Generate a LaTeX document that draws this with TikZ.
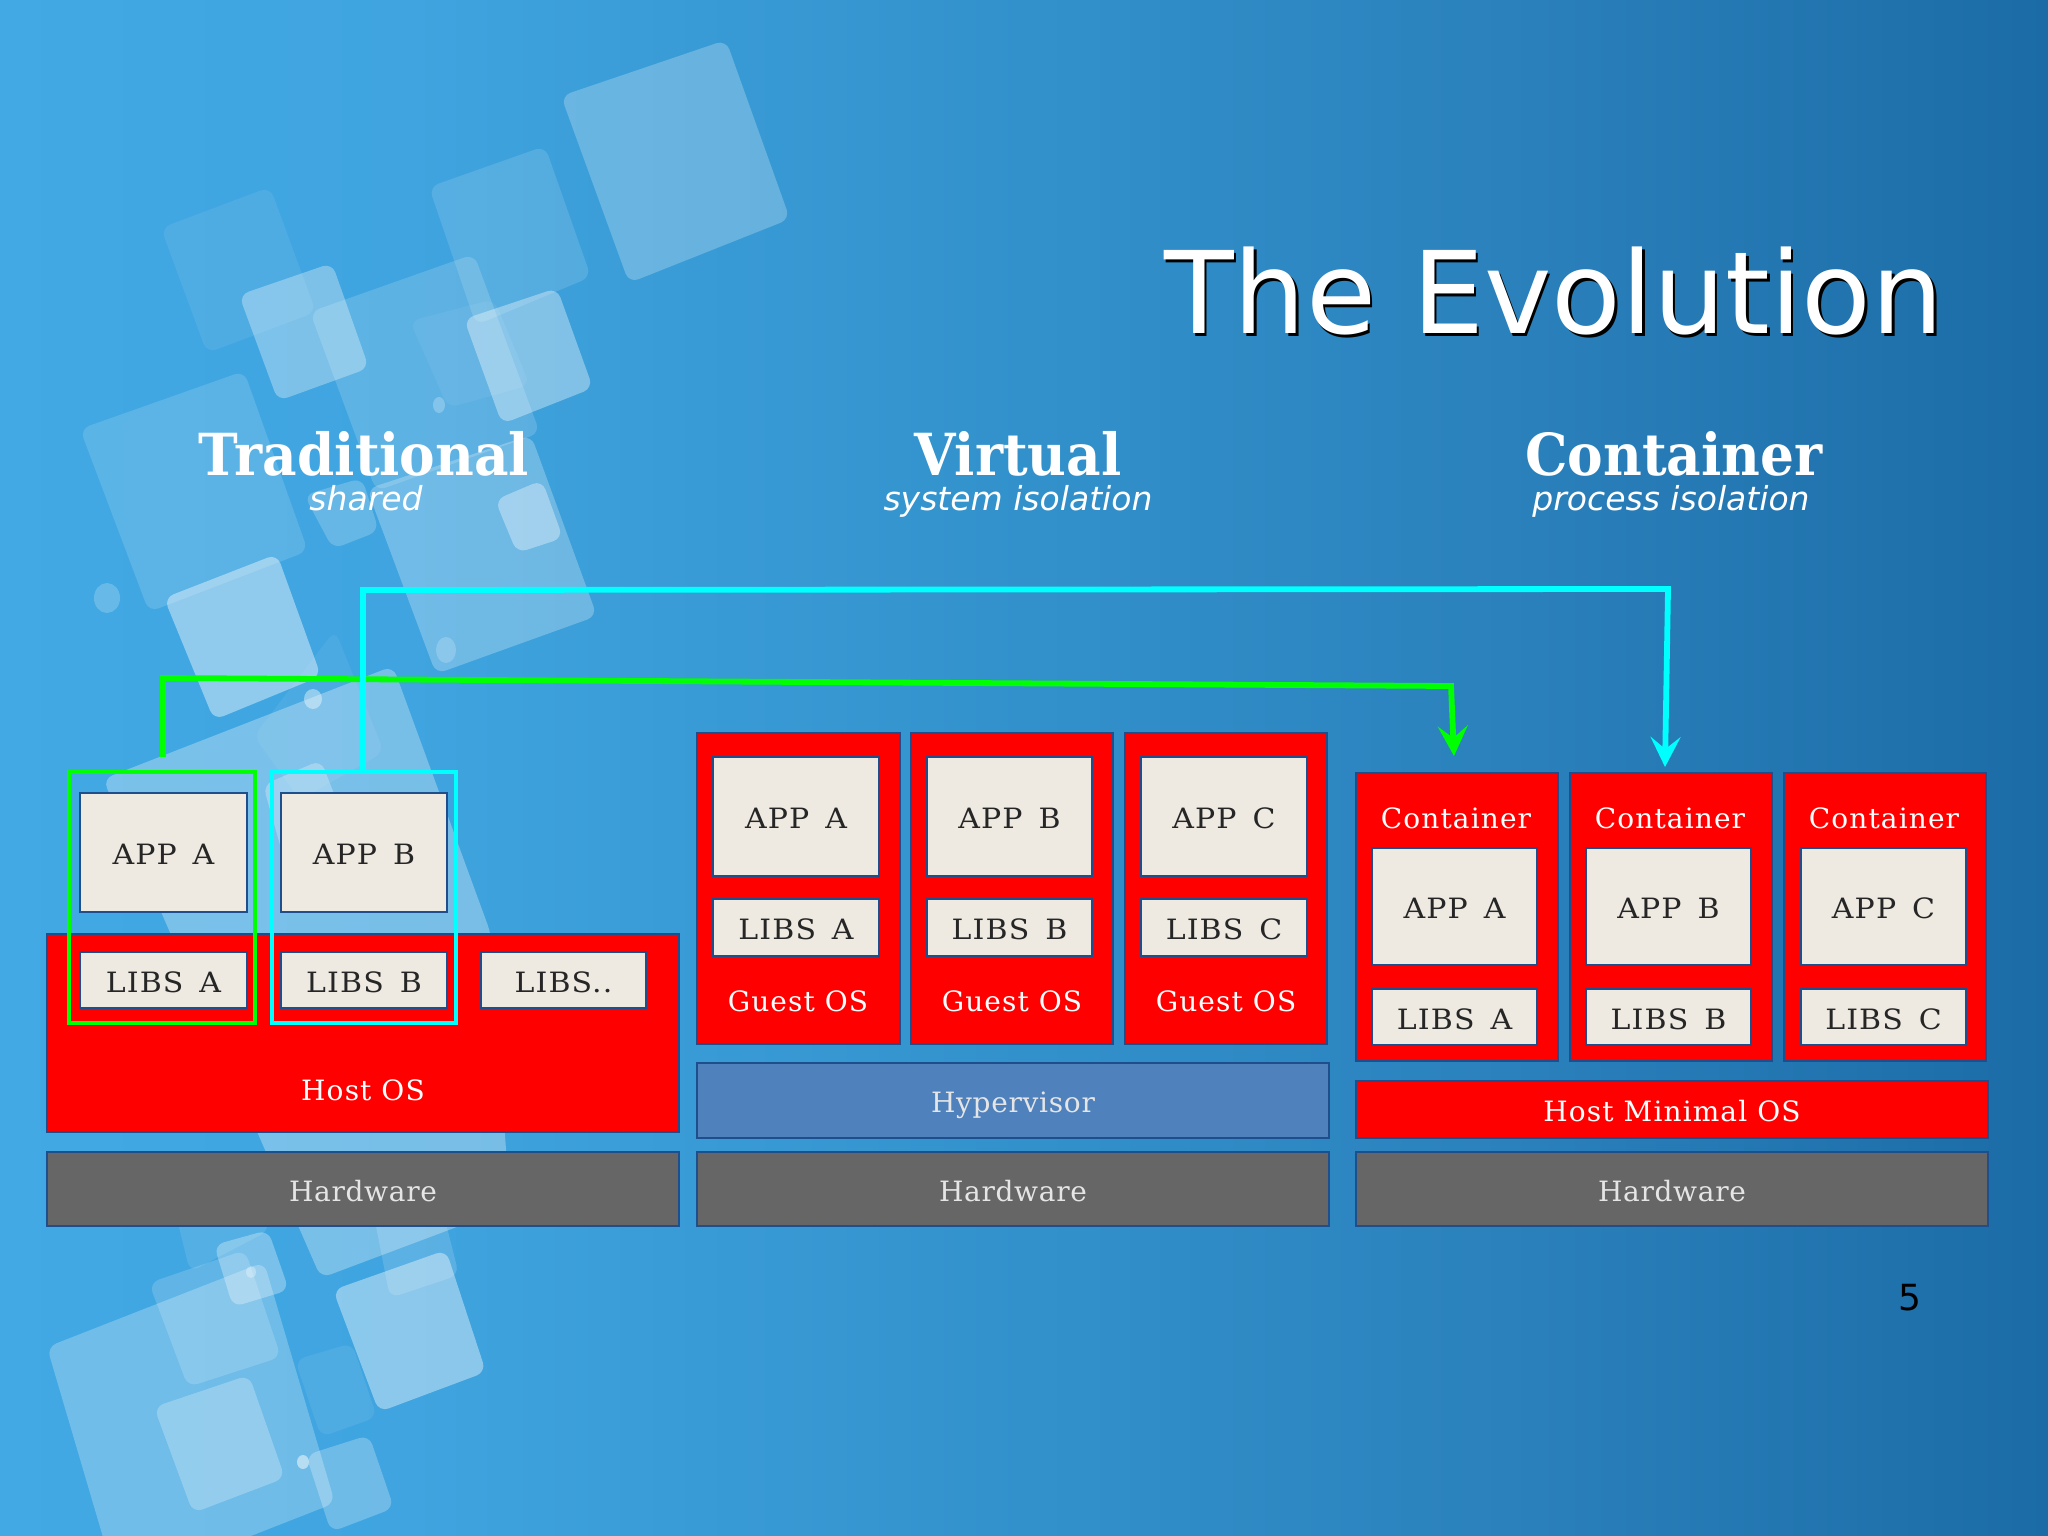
\documentclass[tikz,border=0pt]{standalone}
\usepackage{fontspec}
\usetikzlibrary{arrows.meta}
\setmainfont{DejaVu Sans}
\newfontfamily\boxfont[LetterSpace=4]{DejaVu Serif}
\newfontfamily\greyfont[LetterSpace=2.5]{DejaVu Serif}
\newfontfamily\paperfont[LetterSpace=4,WordSpace=1.5,FakeStretch=1.07]{DejaVu Serif}
\newfontfamily\headfont[FakeStretch=0.92]{DejaVu Serif}
\newfontfamily\subfont{DejaVu Sans}
\definecolor{bga}{HTML}{42A9E4}
\definecolor{bgb}{HTML}{3FA4DF}
\definecolor{bgc}{HTML}{3291CB}
\definecolor{bgd}{HTML}{2A80BB}
\definecolor{bge}{HTML}{1B6CA6}
\definecolor{edge}{HTML}{1F4E8C}
\definecolor{paper}{HTML}{EEEAE2}
\definecolor{hw}{HTML}{666666}
\definecolor{hyp}{HTML}{4F81BD}
\definecolor{lime}{HTML}{00FF00}
\definecolor{aqua}{HTML}{00FFFF}
\pgfdeclarehorizontalshading{bgshade}{100bp}{color(0bp)=(bga);color(25bp)=(bga);color(35bp)=(bgb);color(50bp)=(bgc);color(62.5bp)=(bgd);color(75bp)=(bge);color(100bp)=(bge)}
\newcommand{\bx}[7]{%
  \pgfmathsetmacro\cxx{(#3+#5)/2}\pgfmathsetmacro\cyy{(#4+#6)/2}%
  \pgfmathsetmacro\ww{(#5-#3)*0.5}\pgfmathsetmacro\hh{(#6-#4)*0.5}%
  \node[#1,minimum width=\ww pt,minimum height=\hh pt] (#2) at (\cxx,\cyy) {#7};}
\newcommand{\dq}[5]{\fill[white,rounded corners=5pt,fill opacity=#1] #2 -- #3 -- #4 -- #5 -- cycle;}
\tikzset{
  base/.style={draw=edge,line width=0.9pt,inner sep=0pt,outer sep=0pt,text height=12pt,text depth=0pt,font=\boxfont\fontsize{14}{16}\selectfont},
  paperbox/.style={base,fill=paper,text=black!85,font=\paperfont\fontsize{14}{16}\selectfont},
  redbox/.style={base,fill=red,text=white},
  hwbox/.style={base,fill=hw,text=white!90!black,font=\greyfont\fontsize{14}{16}\selectfont},
  hypbox/.style={base,fill=hyp,text=white!90!black,font=\greyfont\fontsize{14}{16}\selectfont},
  onred/.style={inner sep=0pt,text=white,text height=10pt,text depth=0pt,font=\boxfont\fontsize{14}{16}\selectfont},
  head/.style={inner sep=0pt,text=white,font=\headfont\bfseries\fontsize{29}{32}\selectfont},
  subhead/.style={inner sep=0pt,text=white,font=\subfont\itshape\fontsize{16.5}{19}\selectfont},
  hilite/.style={draw=#1,line width=2.3pt,inner sep=0pt,outer sep=0pt},
  flow/.style={draw=#1,line width=2.9pt,line join=miter,-{Stealth[length=15pt,width=15pt,inset=6pt]}},
}
\begin{document}
\begin{tikzpicture}[x=0.5pt,y=-0.5pt]
\useasboundingbox (0,0) rectangle (2048,1535);
\shade[shading=bgshade] (0,0) rectangle (2048,1535);
\begin{scope}
\clip (0,0) rectangle (2048,1535);
% upper cluster
\dq{.24}{(561,96)}{(726,40)}{(790,219)}{(629,283)}
\dq{.13}{(429,187)}{(545,146)}{(591,277)}{(476,325)}
\dq{.08}{(161,228)}{(270,187)}{(316,312)}{(207,353)}
\dq{.16}{(310,312)}{(474,254)}{(540,433)}{(376,491)}
\dq{.06}{(410,321)}{(494,299)}{(530,385)}{(448,408)}
\dq{.32}{(239,295)}{(332,263)}{(369,368)}{(278,401)}
\dq{.36}{(464,319)}{(557,288)}{(593,388)}{(502,424)}
\dq{.14}{(80,429)}{(244,371)}{(308,551)}{(149,612)}
\dq{.26}{(367,489)}{(531,435)}{(597,616)}{(436,674)}
\dq{.2}{(304,495)}{(362,478)}{(379,531)}{(333,549)}
\dq{.35}{(495,500)}{(542,480)}{(563,538)}{(517,553)}
\dq{.42}{(164,598)}{(277,554)}{(321,676)}{(214,720)}
\dq{.06}{(254,736)}{(335,630)}{(384,752)}{(300,800)}
\fill[white,rounded corners=5pt,fill opacity=.3] (103,779) -- (393,666) -- (491,934) -- (510,1207) -- (321,1278) -- cycle;
\dq{.28}{(263,785)}{(321,760)}{(370,888)}{(286,866)}
% lower cluster
\dq{.1}{(170,1190)}{(250,1170)}{(270,1230)}{(190,1272)}
\dq{.25}{(47,1347)}{(264,1262)}{(335,1503)}{(118,1588)}
\dq{.17}{(149,1283)}{(245,1250)}{(281,1357)}{(188,1387)}
\dq{.3}{(214,1245)}{(268,1230)}{(289,1290)}{(233,1307)}
\dq{.4}{(333,1290)}{(446,1250)}{(486,1372)}{(379,1412)}
\dq{.08}{(295,1360)}{(352,1343)}{(377,1417)}{(321,1437)}
\dq{.15}{(367,1180)}{(430,1160)}{(459,1275)}{(390,1298)}
\dq{.25}{(154,1407)}{(249,1375)}{(285,1478)}{(193,1513)}
\dq{.25}{(306,1455)}{(369,1435)}{(394,1508)}{(331,1532)}
% dots
\fill[white,fill opacity=.2] (107,598) ellipse [x radius=13,y radius=15];
\fill[white,fill opacity=.2] (446,650) ellipse [x radius=10,y radius=13];
\fill[white,fill opacity=.25] (439,405) ellipse [x radius=6,y radius=8];
\fill[white,fill opacity=.4] (313,699) ellipse [x radius=9,y radius=10];
\fill[white,fill opacity=.5] (303,1462) ellipse [x radius=6,y radius=7];
\fill[white,fill opacity=.3] (251,1272) ellipse [x radius=5,y radius=6];
\end{scope}

% title
\node[inner sep=0pt,anchor=base,text=black,font=\fontsize{57}{62}\selectfont] (titleshadow) at (1556.5,336.5) {The Evolution};
\node[inner sep=0pt,anchor=base,text=white,font=\fontsize{57}{62}\selectfont] (title) at (1554,334) {The Evolution};

% headers
\node[head,anchor=base] (h1) at (364,475) {Traditional};
\node[subhead,anchor=base] (s1) at (366,510) {shared};
\node[head,anchor=base] (h2) at (1018,475) {Virtual};
\node[subhead,anchor=base] (s2) at (1018,510) {system isolation};
\node[head,anchor=base] (h3) at (1674,475) {Container};
\node[subhead,anchor=base] (s3) at (1671,510) {process isolation};

% traditional
\bx{redbox}{thost}{47}{934}{679}{1132}{}
\bx{hwbox}{thw}{47}{1152}{679}{1226}{Hardware}
\bx{paperbox}{tappa}{80}{793}{247}{912}{APP A}
\bx{paperbox}{tappb}{281}{793}{447}{912}{APP B}
\bx{paperbox}{tliba}{80}{952}{247}{1008}{LIBS A}
\bx{paperbox}{tlibb}{281}{952}{447}{1008}{LIBS B}
\bx{paperbox}{tlibc}{481}{952}{646}{1008}{LIBS..}
\node[onred] (thostl) at (363,1090) {Host OS};
\bx{hilite=lime}{gbox}{69}{772}{255}{1023}{}
\bx{hilite=aqua}{cbox}{272}{772}{456}{1023}{}

% virtual
\bx{redbox}{v1}{697}{733}{900}{1044}{}
\bx{redbox}{v2}{911}{733}{1113}{1044}{}
\bx{redbox}{v3}{1125}{733}{1327}{1044}{}
\bx{paperbox}{vappa}{713}{757}{879}{876}{APP A}
\bx{paperbox}{vappb}{927}{757}{1092}{876}{APP B}
\bx{paperbox}{vappc}{1141}{757}{1307}{876}{APP C}
\bx{paperbox}{vliba}{713}{899}{879}{956}{LIBS A}
\bx{paperbox}{vlibb}{927}{899}{1092}{956}{LIBS B}
\bx{paperbox}{vlibc}{1141}{899}{1307}{956}{LIBS C}
\node[onred] (vg1) at (798,1001) {Guest OS};
\node[onred] (vg2) at (1012,1001) {Guest OS};
\node[onred] (vg3) at (1226,1001) {Guest OS};
\bx{hypbox}{vhyp}{697}{1063}{1329}{1138}{Hypervisor}
\bx{hwbox}{vhw}{697}{1152}{1329}{1226}{Hardware}

% container
\bx{redbox}{c1}{1356}{773}{1558}{1061}{}
\bx{redbox}{c2}{1570}{773}{1772}{1061}{}
\bx{redbox}{c3}{1784}{773}{1986}{1061}{}
\node[onred] (cl1) at (1456,818) {Container};
\node[onred] (cl2) at (1670,818) {Container};
\node[onred] (cl3) at (1884,818) {Container};
\bx{paperbox}{cappa}{1372}{848}{1537}{965}{APP A}
\bx{paperbox}{cappb}{1586}{848}{1751}{965}{APP B}
\bx{paperbox}{cappc}{1801}{848}{1966}{965}{APP C}
\bx{paperbox}{cliba}{1372}{989}{1537}{1045}{LIBS A}
\bx{paperbox}{clibb}{1586}{989}{1751}{1045}{LIBS B}
\bx{paperbox}{clibc}{1801}{989}{1966}{1045}{LIBS C}
\bx{redbox}{chost}{1356}{1081}{1988}{1138}{Host Minimal OS}
\bx{hwbox}{chw}{1356}{1152}{1988}{1226}{Hardware}

% connectors
\coordinate (gs) at (163,757);
\coordinate (g1) at (163,678);
\coordinate (g2) at (1451,686);
\coordinate (ge) at (1454,756);
\coordinate (c1p) at (363,590);
\coordinate (c2p) at (1668,589);
\coordinate (ce) at (1665,767);
\draw[flow=lime] (gs) -- (g1) -- (g2) -- (ge);
\draw[flow=aqua] (cbox.north -| c1p) -- (c1p) -- (c2p) -- (ce);

% page number
\node[inner sep=0pt,text=black,font=\fontsize{18}{20}\selectfont] (page) at (1910,1298) {5};
\end{tikzpicture}
\end{document}
